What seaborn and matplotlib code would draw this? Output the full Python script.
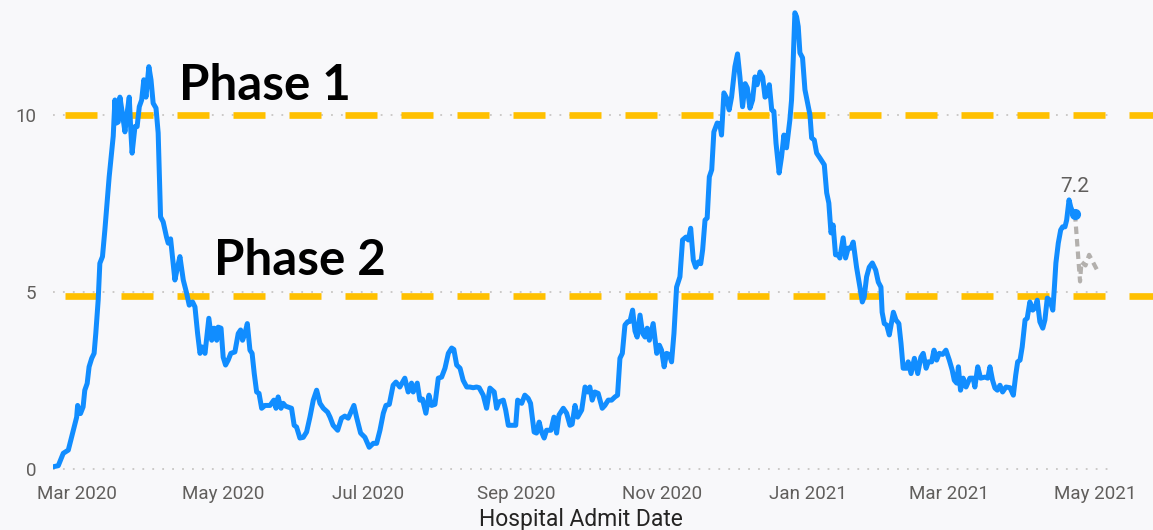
import pandas as pd
import matplotlib.pyplot as plt
import matplotlib.dates as mdates
import seaborn as sns

# Days since 2020-03-01 and the admit rate
day_offsets = [
    -9.9, -7.8, -5.7, -3.6, -1.5, -0.1, 0.3, 1.5, 2.6, 3.3, 4.3, 5.1, 6.2, 7.2, 7.9, 8.9,
    9.6, 10.7, 11.7, 12.7, 13.5, 14.5, 15.2, 15.9, 16.6, 17.3, 18.0, 19.0, 20.1, 21.0,
    21.9, 22.6, 23.1, 24.3, 25.2, 26.1, 27.1, 28.0, 28.9, 30.1, 31.0, 31.9, 33.1, 34.0,
    35.0, 36.1, 37.5, 38.2, 39.2, 41.0, 42.1, 43.1, 44.5, 45.9, 47.0, 48.4, 49.4, 50.5,
    51.5, 52.4, 53.6, 55.2, 56.4, 57.4, 58.5, 59.1, 60.3, 61.2, 62.2, 63.3, 64.4, 66.1,
    67.5, 68.5, 69.3, 70.3, 71.3, 72.4, 73.3, 74.2, 75.2, 76.2, 77.3, 78.7, 80.8, 82.4,
    83.3, 84.2, 85.4, 86.3, 87.3, 89.8, 90.9, 91.9, 93.3, 94.7, 96.1, 97.5, 98.9, 100.3,
    101.7, 103.1, 104.9, 105.9, 107.2, 109.1, 110.7, 112.1, 113.5, 115.9, 117.0, 118.7,
    120.5, 122.3, 124.0, 125.4, 126.8, 128.2, 129.3, 130.7, 132.3, 133.5, 135.1, 137.2,
    138.6, 140.0, 140.7, 142.4, 143.5, 144.6, 146.0, 147.3, 148.4, 149.8, 151.2, 152.6,
    154.0, 155.4, 156.8, 157.7, 158.9, 160.3, 161.6, 163.1, 164.4, 165.8, 167.2, 168.3,
    170.0, 171.4, 172.8, 174.6, 175.6, 176.6, 178.4, 179.4, 180.5, 181.9, 183.6, 184.4,
    186.1, 187.4, 188.8, 189.8, 191.3, 192.3, 193.4, 194.4, 195.5, 196.5, 198.3, 199.6,
    200.7, 201.7, 203.5, 204.9, 206.3, 207.2, 208.4, 209.5, 211.2, 212.6, 213.7, 214.6,
    215.6, 216.7, 218.1, 219.8, 220.9, 222.3, 223.7, 225.1, 226.2, 227.2, 228.2, 229.3,
    230.4, 231.4, 232.5, 233.5, 234.4, 235.6, 236.7, 237.7, 238.6, 239.5, 241.1, 242.6,
    243.7, 244.6, 245.7, 246.7, 247.8, 248.8, 249.8, 250.9, 252.3, 253.4, 254.8, 255.8,
    256.8, 257.9, 258.9, 260.0, 261.0, 261.8, 262.8, 263.7, 264.6, 265.6, 266.5, 267.9,
    269.0, 269.7, 270.7, 271.8, 272.9, 273.9, 275.3, 276.4, 277.4, 278.5, 279.6, 280.5,
    281.6, 282.7, 283.7, 284.6, 285.8, 286.9, 287.9, 288.6, 289.7, 290.7, 291.6, 292.5,
    293.8, 294.8, 295.8, 296.9, 298.3, 299.0, 299.7, 300.4, 301.1, 301.8, 302.5, 303.6,
    304.6, 305.7, 306.7, 307.4, 308.5, 309.5, 310.9, 312.7, 313.7, 314.6, 315.5, 316.4,
    317.4, 318.5, 319.2, 320.6, 321.6, 322.7, 323.8, 324.8, 326.2, 327.6, 328.6, 329.4,
    330.4, 331.5, 332.8, 334.2, 335.3, 336.4, 336.9, 337.8, 338.8, 339.9, 341.6, 342.7,
    343.9, 344.8, 345.7, 347.1, 347.8, 349.0, 350.4, 351.8, 353.1, 354.1, 355.3, 356.2,
    357.6, 358.6, 359.7, 360.8, 362.2, 363.6, 365.0, 366.2, 367.1, 368.1, 368.8, 369.7,
    370.8, 372.0, 373.6, 375.0, 375.7, 376.9, 378.1, 379.9, 381.1, 382.0, 383.1, 384.1,
    385.1, 386.2, 387.3, 388.7, 390.4, 391.8, 392.8, 393.6, 394.6, 395.5, 396.7, 397.6,
    398.7, 399.9, 400.8, 401.8, 402.9, 404.1, 405.0, 406.0, 407.1, 408.3, 408.9, 409.6,
    410.6, 411.6, 412.4, 413.4, 414.1, 415.1, 415.8, 416.6, 417.6,
]
admit_rate = [
    0.07, 0.10, 0.45, 0.54, 1.10, 1.47, 1.80, 1.57, 1.76, 2.23, 2.42, 2.89, 3.13, 3.27, 3.83, 4.77,
    5.81, 6.00, 6.75, 7.60, 8.25, 8.92, 9.40, 10.42, 9.77, 9.80, 10.50, 10.05, 9.52, 10.05,
    10.50, 9.49, 8.92, 9.67, 9.67, 10.23, 10.42, 10.99, 10.50, 11.36, 10.99, 10.33, 10.19, 9.49,
    7.12, 6.98, 6.55, 6.38, 6.50, 5.34, 5.70, 6.00, 5.34, 4.97, 4.63, 4.72, 4.58, 3.83,
    3.27, 3.45, 3.27, 4.26, 3.64, 3.98, 3.64, 4.01, 3.98, 3.16, 2.94, 3.08, 3.27, 3.31,
    3.83, 3.93, 3.64, 3.83, 4.11, 3.36, 3.27, 2.70, 2.18, 2.14, 1.72, 1.80, 1.80, 1.95,
    1.72, 2.04, 1.72, 1.86, 1.78, 1.72, 1.24, 1.19, 0.88, 0.90, 1.05, 1.47, 1.95, 2.23,
    1.86, 1.72, 1.61, 1.47, 1.24, 1.10, 1.44, 1.50, 1.44, 1.80, 1.47, 1.02,
    0.90, 0.62, 0.73, 0.73, 1.10, 1.58, 1.80, 1.83, 2.37, 2.46, 2.32, 2.57,
    2.18, 2.43, 2.18, 2.43, 1.95, 1.98, 1.58, 2.09, 1.80, 1.83, 2.57, 2.60,
    2.85, 3.27, 3.42, 3.38, 2.94, 2.85, 2.51, 2.32, 2.32, 2.30, 2.32, 2.30,
    2.09, 1.72, 2.29, 2.18, 1.72, 1.90, 1.95, 1.67, 1.24, 1.24, 1.24, 1.95,
    1.86, 2.09, 2.00, 1.86, 1.05, 1.02, 1.33, 1.05, 0.88, 1.10, 1.10, 1.47,
    1.02, 1.53, 1.72, 1.58, 1.24, 1.27, 1.80, 1.47, 1.67, 2.32, 2.18, 2.32,
    1.95, 2.18, 2.14, 1.72, 1.80, 1.95, 1.95, 2.04, 2.09, 3.13, 3.27, 4.07,
    4.16, 4.17, 4.49, 3.90, 3.73, 4.35, 3.83, 3.73, 3.98, 3.64, 4.11, 3.27,
    3.50, 3.36, 2.89, 3.27, 3.24, 3.03, 3.83, 5.14, 5.43, 6.47, 6.55, 6.47,
    6.80, 5.90, 5.70, 5.85, 5.80, 6.19, 7.03, 7.09, 8.25, 8.45, 9.52, 9.77,
    9.74, 9.43, 10.62, 10.48, 10.14, 10.50, 11.36, 11.72, 11.07, 10.23, 10.88, 10.76,
    10.19, 10.42, 11.07, 10.85, 11.21, 11.07, 10.50, 10.54, 10.85, 10.14, 10.10, 9.20,
    8.36, 8.81, 9.43, 9.07, 9.86, 10.42, 11.55, 12.88, 12.77, 12.49, 11.75, 11.61,
    10.71, 10.33, 10.00, 9.35, 9.29, 8.92, 8.78, 8.59, 7.80, 7.51, 6.67, 6.89,
    6.05, 6.05, 5.96, 6.53, 5.96, 6.24, 6.24, 6.41, 5.70, 5.14, 4.72, 4.86,
    5.43, 5.70, 5.82, 5.62, 5.28, 5.14, 4.43, 4.11, 4.07, 3.79, 4.43, 4.21,
    4.11, 3.55, 2.85, 2.85, 3.03, 2.70, 3.13, 2.70, 3.16, 3.27, 2.85, 3.03,
    3.03, 3.36, 3.08, 3.27, 3.24, 3.36, 3.08, 2.80, 2.51, 2.43, 2.89, 2.23,
    2.57, 2.32, 2.57, 2.57, 2.32, 2.89, 2.57, 2.60, 2.57, 2.89, 2.51, 2.29,
    2.23, 2.37, 2.18, 2.32, 2.30, 2.09, 2.66, 3.03, 3.08, 3.45, 4.21, 4.26,
    4.72, 4.49, 4.55, 4.77, 4.16, 3.98, 4.21, 4.83, 4.77, 4.49, 5.06, 5.82,
    6.38, 6.75, 6.84, 6.84, 7.03, 7.60, 7.40, 7.26, 7.20,
]

# Incomplete recent days (grey dashed tail)
tail_offsets = [417.6, 419.7, 420.3, 422.0, 423.5, 427.4]
tail_rate = [7.2, 5.3, 5.85, 5.75, 6.05, 5.55]

phase_levels = [10.0, 4.9]
phase_labels = ["Phase 1", "Phase 2"]
phase_label_pos = [(42.7, 10.42), (57.3, 5.48)]

start = pd.Timestamp("2020-03-01")
df = pd.DataFrame({"date": start + pd.to_timedelta(day_offsets, unit="D"), "rate": admit_rate})
tail = pd.DataFrame({"date": start + pd.to_timedelta(tail_offsets, unit="D"), "rate": tail_rate})

bg = "#F8F8FA"
sns.set_theme(style="white", rc={"axes.facecolor": bg, "figure.facecolor": bg})
plt.rcParams["font.family"] = ["Roboto", "DejaVu Sans"]

fig = plt.figure(figsize=(11.53, 5.30), dpi=100)
ax = fig.add_axes([53 / 1153, 59 / 530, 1055 / 1153, 466 / 530])

# dotted gridlines
for y in [0, 5, 10]:
    ax.axhline(y, color="#C8C6C4", lw=1.3, linestyle=(0, (1, 4.5)), zorder=0)

# phase threshold lines (run past the plot area like the reference)
for lvl in phase_levels:
    ax.axhline(lvl, xmin=0, xmax=1100 / 1055, color="#FFC000", lw=4.8,
               linestyle=(6.6, (4.8, 3.6)), solid_capstyle="butt",
               dash_capstyle="butt", clip_on=False, zorder=2)

sns.lineplot(data=tail, x="date", y="rate", ax=ax, color="#B3B0AD", lw=3,
             linestyle=(0, (1.8, 1.2)), errorbar=None, zorder=3)
sns.lineplot(data=df, x="date", y="rate", ax=ax, color="#118DFF", lw=3.6,
             errorbar=None, zorder=4)
ax.lines[-1].set_solid_joinstyle("round")
ax.plot(df["date"].iloc[-1], df["rate"].iloc[-1], "o", color="#118DFF", ms=7, zorder=5)
ax.annotate(f"{admit_rate[-1]:.1f}", xy=(df["date"].iloc[-1], admit_rate[-1]),
            xytext=(0, 16), textcoords="offset points", ha="center", va="baseline",
            fontsize=15, color="#605E5C")

for label, (d, y) in zip(phase_labels, phase_label_pos):
    ax.text(start + pd.Timedelta(days=d), y, label, fontsize=35.5, fontweight="bold",
            family=["Lato", "DejaVu Sans"], color="black", ha="left", va="baseline")

ax.set_xlim(start - pd.Timedelta(days=10), start + pd.Timedelta(days=431.4))
ax.set_ylim(-0.05, 13.1)
ax.set_yticks([0, 5, 10])
ax.xaxis.set_major_locator(mdates.MonthLocator(bymonth=[1, 3, 5, 7, 9, 11]))
ax.xaxis.set_major_formatter(mdates.DateFormatter("%b %Y"))
ax.tick_params(axis="both", length=0, labelsize=13.5, labelcolor="#605E5C")
ax.tick_params(axis="y", pad=12)
ax.tick_params(axis="x", pad=10)
ax.set_xlabel("Hospital Admit Date", fontsize=16.5, color="#252423", labelpad=4)
ax.set_ylabel("")
sns.despine(ax=ax, left=True, bottom=True)

fig.savefig("out.png", dpi=100, facecolor=bg)
